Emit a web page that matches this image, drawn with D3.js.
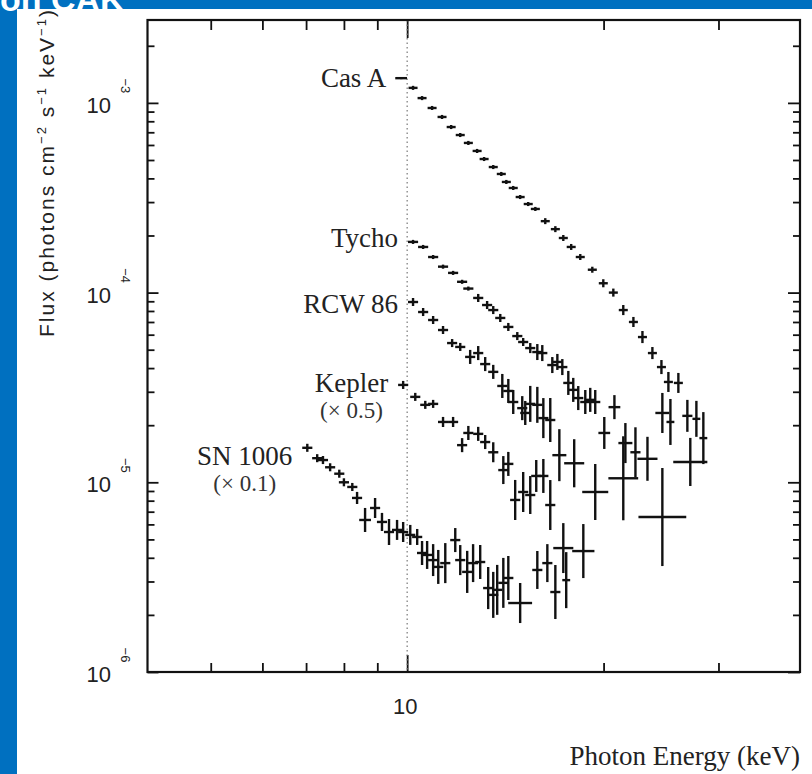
<!DOCTYPE html>
<html><head><meta charset="utf-8">
<script src="https://cdn.jsdelivr.net/npm/d3@7"></script>
<style>body{margin:0;background:#fff}svg{display:block}</style>
</head><body>
<svg id="c" width="812" height="774"></svg>
<script>
// ---- data: [energy keV, flux, x error factor, y error factor] ----
const casA = [
[9.79,1.35e-3,1.021,1.012],[10.21,1.20e-3,1.016,1.025],[10.54,1.06e-3,1.016,1.025],[10.92,9.40e-4,1.016,1.025],
[11.31,8.43e-4,1.016,1.025],[11.68,7.46e-4,1.016,1.025],[12.06,6.77e-4,1.016,1.025],[12.41,6.15e-4,1.016,1.025],
[12.80,5.58e-4,1.016,1.025],[13.12,5.06e-4,1.016,1.025],[13.55,4.59e-4,1.016,1.025],[13.94,4.22e-4,1.016,1.025],
[14.19,3.83e-4,1.016,1.025],[14.54,3.56e-4,1.016,1.025],[14.90,3.19e-4,1.016,1.025],[15.33,2.93e-4,1.016,1.025],
[15.72,2.76e-4,1.016,1.025],[16.28,2.38e-4,1.016,1.037],[16.87,2.16e-4,1.016,1.037],[17.35,1.94e-4,1.016,1.037],
[17.84,1.74e-4,1.016,1.037],[18.42,1.54e-4,1.016,1.037],[19.22,1.32e-4,1.016,1.037],[19.98,1.12e-4,1.016,1.050],
[20.70,1.00e-4,1.016,1.050],[21.44,8.09e-5,1.016,1.063],[22.22,7.00e-5,1.016,1.063],[22.94,5.83e-5,1.016,1.076],
[23.76,4.80e-5,1.016,1.076],[24.53,4.05e-5,1.016,1.089],[25.14,3.38e-5,1.016,1.129],[26.04,3.34e-5,1.016,1.129]
];
const tycho = [
[10.21,1.85e-4,1.018,1.025],[10.58,1.74e-4,1.018,1.025],[10.96,1.54e-4,1.018,1.025],[11.35,1.37e-4,1.018,1.025],
[11.76,1.27e-4,1.018,1.025],[12.14,1.14e-4,1.018,1.025],[12.41,1.05e-4,1.018,1.025],[12.85,9.37e-5,1.018,1.050],
[13.26,8.60e-5,1.018,1.050],[13.55,8.09e-5,1.018,1.050],[13.89,7.35e-5,1.018,1.050],[14.29,6.59e-5,1.018,1.050],
[14.75,5.90e-5,1.018,1.050],[15.06,5.49e-5,1.018,1.050],[15.44,5.10e-5,1.018,1.063],[15.83,4.86e-5,1.018,1.102],
[16.11,4.80e-5,1.018,1.102],[16.69,4.15e-5,1.018,1.102],[16.99,4.31e-5,1.018,1.102],[17.29,4.05e-5,1.018,1.102],
[17.66,3.34e-5,1.018,1.157],[17.97,3.07e-5,1.018,1.157],[18.29,2.78e-5,1.018,1.157],[18.75,2.65e-5,1.018,1.157],
[19.08,2.72e-5,1.018,1.157],[19.42,2.65e-5,1.018,1.157],[20.78,2.49e-5,1.021,1.157],[24.61,2.32e-5,1.025,1.275],
[25.32,2.08e-5,1.014,1.322],[26.88,2.24e-5,1.018,1.214],[27.75,2.16e-5,1.014,1.244],[28.44,1.71e-5,1.014,1.371]
];
const rcw86 = [
[10.21,8.92e-5,1.018,1.050],[10.58,7.90e-5,1.018,1.050],[10.96,7.17e-5,1.018,1.050],[11.35,6.35e-5,1.018,1.050],
[11.72,5.42e-5,1.018,1.050],[12.06,5.17e-5,1.018,1.050],[12.49,4.58e-5,1.018,1.089],[12.85,4.80e-5,1.018,1.089],
[13.17,4.20e-5,1.018,1.089],[13.55,3.82e-5,1.018,1.089],[13.99,3.22e-5,1.018,1.157],[14.29,3.03e-5,1.018,1.157],
[14.54,2.65e-5,1.018,1.157],[15.01,2.46e-5,1.018,1.157],[15.17,2.32e-5,1.018,1.157],[15.44,2.59e-5,1.018,1.244],
[15.83,2.56e-5,1.018,1.244],[16.17,2.18e-5,1.018,1.275],[16.57,2.13e-5,1.018,1.306],[17.11,1.39e-5,1.025,1.371],
[18.03,1.26e-5,1.036,1.339],[20.05,1.82e-5,1.021,1.214],[21.60,1.61e-5,1.025,1.275],[22.38,1.44e-5,1.018,1.354],
[23.35,1.33e-5,1.036,1.306],[27.16,1.28e-5,1.062,1.339]
];
const kepler = [
[9.86,3.26e-5,1.018,1.050],[10.29,2.82e-5,1.018,1.050],[10.66,2.56e-5,1.018,1.050],[10.96,2.59e-5,1.018,1.050],
[11.35,2.08e-5,1.018,1.063],[11.76,2.08e-5,1.018,1.063],[12.14,1.57e-5,1.018,1.089],[12.41,1.82e-5,1.018,1.089],
[12.85,1.80e-5,1.018,1.089],[13.17,1.63e-5,1.018,1.089],[13.55,1.44e-5,1.018,1.129],[14.04,1.16e-5,1.018,1.185],
[14.29,1.25e-5,1.018,1.157],[14.64,8.07e-6,1.018,1.275],[15.06,8.89e-6,1.018,1.275],[15.44,8.57e-6,1.018,1.259],
[15.77,1.08e-5,1.018,1.214],[16.17,1.08e-5,1.018,1.229],[16.57,7.59e-6,1.018,1.354],[19.42,8.89e-6,1.047,1.405],
[21.44,1.05e-5,1.054,1.665],[24.61,6.56e-6,1.088,1.813]
];
const sn1006 = [
[7.03,1.52e-5,1.018,1.050],[7.28,1.34e-5,1.018,1.050],[7.43,1.31e-5,1.018,1.050],[7.62,1.20e-5,1.018,1.050],
[7.87,1.11e-5,1.018,1.050],[8.00,1.00e-5,1.018,1.050],[8.24,9.45e-6,1.018,1.050],[8.38,8.27e-6,1.018,1.076],
[8.62,6.33e-6,1.021,1.157],[8.93,7.32e-6,1.018,1.129],[9.15,6.18e-6,1.018,1.116],[9.38,5.47e-6,1.018,1.171],
[9.65,5.61e-6,1.018,1.129],[9.86,5.47e-6,1.018,1.129],[10.11,5.28e-6,1.018,1.129],[10.36,5.15e-6,1.018,1.102],
[10.54,4.24e-6,1.018,1.157],[10.73,4.14e-6,1.018,1.185],[10.96,3.89e-6,1.018,1.214],[11.16,3.58e-6,1.018,1.229],
[11.44,3.75e-6,1.018,1.275],[11.85,4.96e-6,1.018,1.157],[12.06,3.89e-6,1.018,1.200],[12.36,3.37e-6,1.018,1.291],
[12.62,3.75e-6,1.018,1.259],[12.94,3.80e-6,1.018,1.229],[13.31,2.77e-6,1.018,1.291],[13.55,2.55e-6,1.018,1.322],
[13.74,2.71e-6,1.018,1.354],[14.04,2.95e-6,1.018,1.354],[14.29,3.13e-6,1.018,1.306],[14.90,2.31e-6,1.043,1.275],
[15.83,3.45e-6,1.018,1.259],[16.40,3.75e-6,1.018,1.259],[16.87,2.64e-6,1.018,1.388],[17.35,4.50e-6,1.036,1.354],
[17.53,3.05e-6,1.014,1.405],[18.62,4.34e-6,1.040,1.388]
];
const seriesNames = ["Cas A","Tycho","RCW 86","Kepler","SN 1006"];
const seriesNotes = ["","","","(× 0.5)","(× 0.1)"];
const energyDomain = [4, 40];
const fluxDomain = [1e-6, 2.735e-3];
const xMajorTicks = [10];
const xMinorTicks = [5,6,7,8,9,20,30];
const yMajorTicks = [1e-6,1e-5,1e-4,1e-3];
const yExponents = ["−6","−5","−4","−3"];
const xTitle = "Photon Energy (keV)";

// ---- layout ----
const svg = d3.select("#c");
const L=147.5, R=800, T=20, B=672;
const x = d3.scaleLog().domain(energyDomain).range([L,R]);
const y = d3.scaleLog().domain(fluxDomain).range([B,T]);
const yMinorTicks = y.ticks(40).filter(v => !yMajorTicks.some(m => Math.abs(v/m-1)<1e-6));

svg.append("rect").attr("x",0).attr("y",0).attr("width",812).attr("height",774).attr("fill","#fff");

const axStyle = g => { g.select(".domain").remove(); g.selectAll("line").attr("stroke","#111").attr("stroke-width",1.8); };
svg.append("g").attr("transform",`translate(0,${B})`).call(d3.axisBottom(x).tickValues(xMinorTicks).tickSize(-9).tickFormat("")).call(axStyle);
svg.append("g").attr("transform",`translate(0,${B})`).call(d3.axisBottom(x).tickValues(xMajorTicks).tickSize(-17).tickFormat("")).call(axStyle);
svg.append("g").attr("transform",`translate(0,${T})`).call(d3.axisTop(x).tickValues(xMinorTicks).tickSize(-10).tickFormat("")).call(axStyle);
svg.append("g").attr("transform",`translate(0,${T})`).call(d3.axisTop(x).tickValues(xMajorTicks).tickSize(-18).tickFormat("")).call(axStyle);
svg.append("g").attr("transform",`translate(${L},0)`).call(d3.axisLeft(y).tickValues(yMajorTicks).tickSize(-11).tickFormat("")).call(axStyle);
svg.append("g").attr("transform",`translate(${L},0)`).call(d3.axisLeft(y).tickValues(yMinorTicks).tickSize(-7).tickFormat("")).call(axStyle);
svg.append("g").attr("transform",`translate(${R},0)`).call(d3.axisRight(y).tickValues(yMajorTicks).tickSize(-12).tickFormat("")).call(axStyle);
svg.append("g").attr("transform",`translate(${R},0)`).call(d3.axisRight(y).tickValues(yMinorTicks).tickSize(-7).tickFormat("")).call(axStyle);

// dotted line at 10 keV
svg.append("line").attr("x1",x(10)).attr("x2",x(10)).attr("y1",T).attr("y2",B)
  .attr("stroke","#777").attr("stroke-width",1.2).attr("stroke-dasharray","1.5,3");

svg.append("rect").attr("x",L).attr("y",T).attr("width",R-L).attr("height",B-T)
  .attr("fill","none").attr("stroke","#111").attr("stroke-width",2.2);

const sans = "'Liberation Sans', Arial, sans-serif";
const serif = "'Liberation Serif', 'Times New Roman', serif";
yMajorTicks.forEach((v,i) => {
  svg.append("text").attr("x",111).attr("y",y(v)+10).attr("text-anchor","end")
    .attr("font-family",sans).attr("font-size",22).attr("fill","#222").text("10");
  svg.append("text").attr("transform",`translate(${126},${y(v)-17}) rotate(90)`)
    .attr("text-anchor","middle").attr("dy","0.35em")
    .attr("font-family",sans).attr("font-size",13).attr("fill","#222").text(yExponents[i]);
});
xMajorTicks.forEach(v => {
  svg.append("text").attr("x",x(v)-2).attr("y",714).attr("text-anchor","middle")
    .attr("font-family",sans).attr("font-size",22).attr("fill","#222").text("10");
});

// axis titles
svg.append("text").attr("x",800).attr("y",765).attr("text-anchor","end")
  .attr("font-family",serif).attr("font-size",27).attr("fill","#222").text(xTitle);
const yt = svg.append("text").attr("transform","translate(54,337) rotate(-90)")
  .attr("font-family",sans).attr("font-size",21).attr("letter-spacing",2.0).attr("fill","#222");
yt.append("tspan").text("Flux (photons cm");
yt.append("tspan").attr("font-size",13).attr("dy",-8).text("−2");
yt.append("tspan").attr("dy",8).text(" s");
yt.append("tspan").attr("font-size",13).attr("dy",-8).text("−1");
yt.append("tspan").attr("dy",8).text(" keV");
yt.append("tspan").attr("font-size",13).attr("dy",-8).text("−1");
yt.append("tspan").attr("dy",8).text(")");

// data crosses
const allSeries = [casA, tycho, rcw86, kepler, sn1006];
const gData = svg.append("g").attr("stroke","#111").attr("stroke-width",2.4);
allSeries.forEach(s => {
  const g = gData.append("g");
  g.selectAll("line.h").data(s).join("line").attr("class","h")
    .attr("x1",d=>x(d[0]/d[2])).attr("x2",d=>x(d[0]*d[2])).attr("y1",d=>y(d[1])).attr("y2",d=>y(d[1]));
  g.selectAll("line.v").data(s).join("line").attr("class","v")
    .attr("x1",d=>x(d[0])).attr("x2",d=>x(d[0])).attr("y1",d=>y(d[1]/d[3])).attr("y2",d=>y(d[1]*d[3]));
});

// series labels
const labelDy = [9,5,11,7,17];
allSeries.forEach((s,i) => {
  const x0 = x(s[0][0]) - 15, y0 = y(s[0][1]) + labelDy[i];
  const t = svg.append("text").attr("x",x0).attr("y",y0).attr("text-anchor","end")
    .attr("font-family",serif).attr("font-size",27).attr("fill","#222").text(seriesNames[i]);
  if (seriesNotes[i]) {
    const w = t.node().getComputedTextLength();
    svg.append("text").attr("x",x0 - w/2).attr("y",y0+26).attr("text-anchor","middle")
      .attr("font-family",serif).attr("font-size",23).attr("fill","#333").text(seriesNotes[i]);
  }
});

// slide border (blue)
svg.append("rect").attr("x",0).attr("y",0).attr("width",812).attr("height",9).attr("fill","#0070c0");
svg.append("rect").attr("x",0).attr("y",0).attr("width",17).attr("height",774).attr("fill","#0070c0");
svg.append("clipPath").attr("id","topclip").append("rect").attr("x",0).attr("y",0).attr("width",812).attr("height",12);
svg.append("text").attr("x",0).attr("y",11).attr("font-family",sans).attr("font-weight","bold")
  .attr("font-size",34).attr("fill","#fff").attr("clip-path","url(#topclip)").text("on CAK");
</script>
</body></html>
